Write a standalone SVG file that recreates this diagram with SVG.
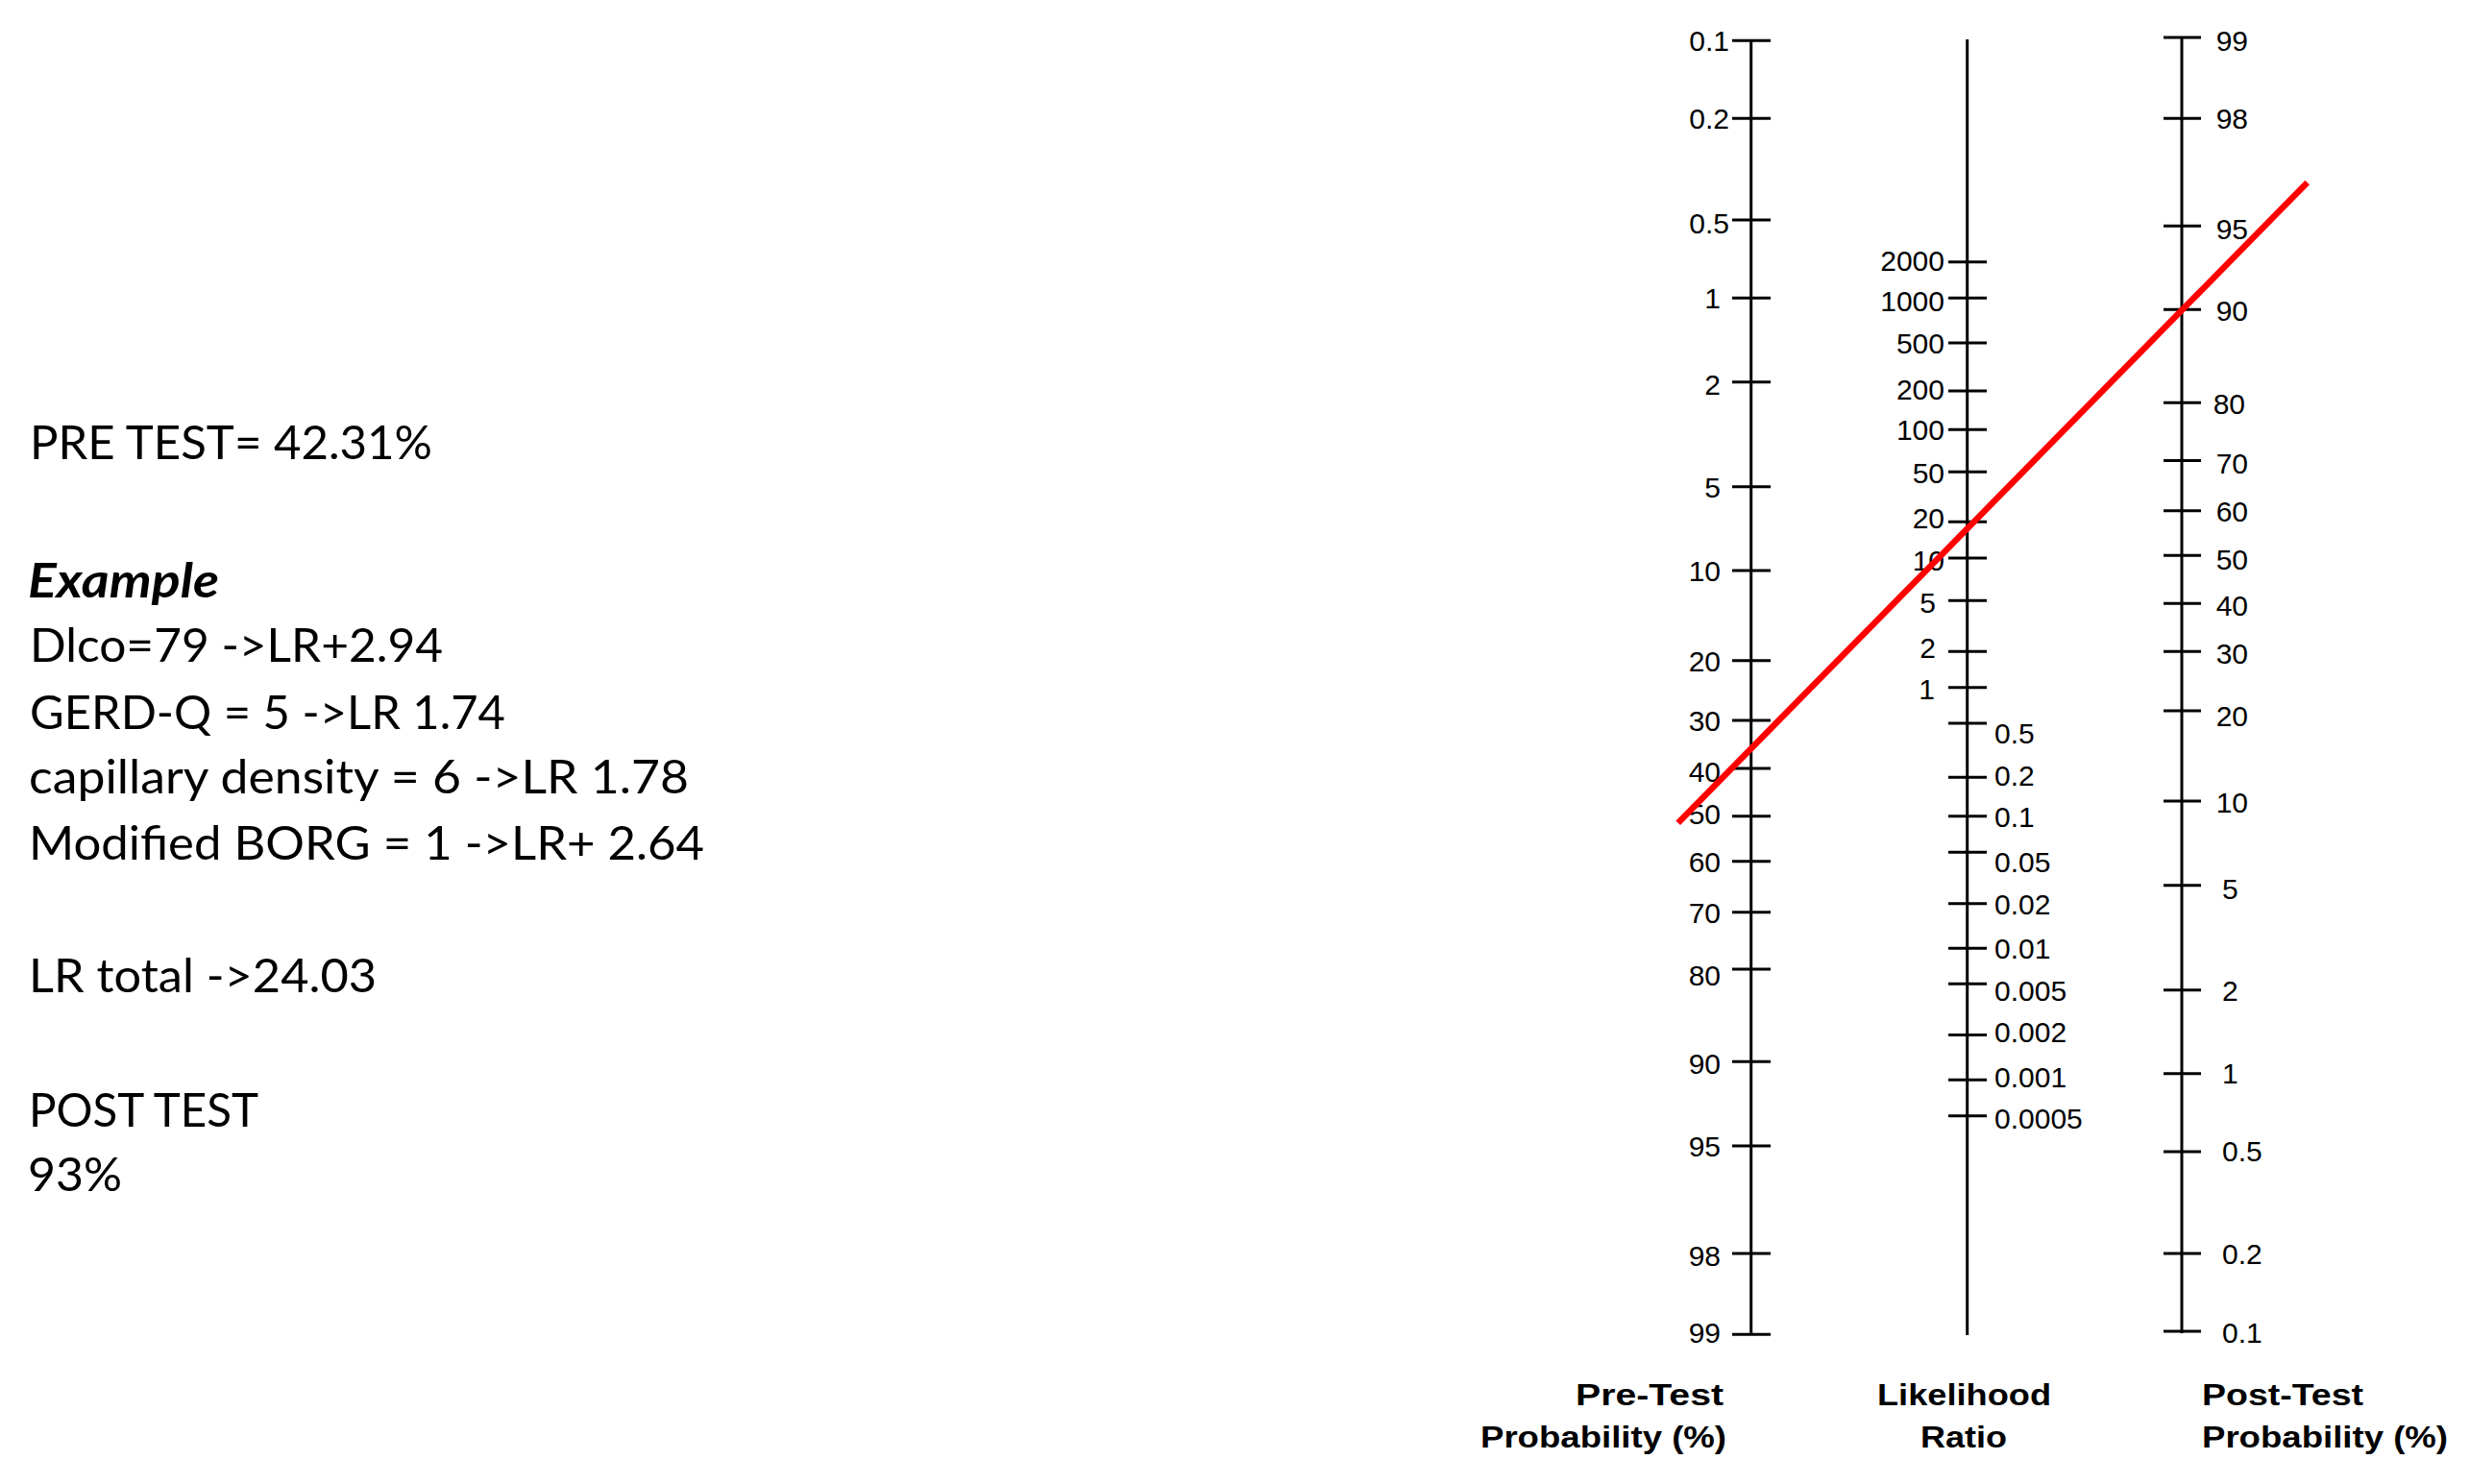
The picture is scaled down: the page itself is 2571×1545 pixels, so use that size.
<svg xmlns="http://www.w3.org/2000/svg" width="2571" height="1545" viewBox="0 0 2571 1545">
<style>
  .axis { stroke: #000; stroke-width: 3; fill: none; }
  .lbl { font-family: "Liberation Sans", Arial, sans-serif; font-size: 30px; fill: #000; }
  .end { text-anchor: end; }
  .ttl { font-family: "Liberation Sans", Arial, sans-serif; font-size: 32px; font-weight: bold; fill: #000; }
  .note { font-family: Lato, "Open Sans", sans-serif; font-size: 49px; fill: #000; }
  .ex { font-weight: bold; font-style: italic; }
  .red { stroke: #ff0000; stroke-width: 6.5; fill: none; }
</style>
<rect x="0" y="0" width="2571" height="1545" fill="#fff"/>

<g id="notes">
  <text class="note" x="31" y="478" textLength="419" lengthAdjust="spacingAndGlyphs">PRE TEST= 42.31%</text>
  <text class="note ex" x="29" y="621.5" textLength="199" lengthAdjust="spacingAndGlyphs">Example</text>
  <text class="note" x="31" y="688.5" textLength="430" lengthAdjust="spacingAndGlyphs">Dlco=79 -&gt;LR+2.94</text>
  <text class="note" x="31" y="758.5" textLength="495" lengthAdjust="spacingAndGlyphs">GERD-Q = 5 -&gt;LR 1.74</text>
  <text class="note" x="30" y="826" textLength="687" lengthAdjust="spacingAndGlyphs">capillary density = 6 -&gt;LR 1.78</text>
  <text class="note" x="30" y="895" textLength="703" lengthAdjust="spacingAndGlyphs">Modified BORG = 1 -&gt;LR+ 2.64</text>
  <text class="note" x="30" y="1033" textLength="362" lengthAdjust="spacingAndGlyphs">LR total -&gt;24.03</text>
  <text class="note" x="30" y="1173" textLength="239" lengthAdjust="spacingAndGlyphs">POST TEST</text>
  <text class="note" x="29" y="1240" textLength="98" lengthAdjust="spacingAndGlyphs">93%</text>
</g>

<g id="pretest-axis">
  <line class="axis" x1="1822.7" y1="42" x2="1822.7" y2="1389.5"/>
  <path class="axis" d="M1803,42.3H1843M1803,123.3H1843M1803,229H1843M1803,310.3H1843M1803,397.7H1843M1803,506.7H1843M1803,594H1843M1803,687.7H1843M1803,750H1843M1803,800H1843M1803,849.7H1843M1803,896.7H1843M1803,949.7H1843M1803,1009H1843M1803,1105.3H1843M1803,1193H1843M1803,1305H1843M1803,1389.3H1843"/>
  <text class="lbl end" x="1800" y="53">0.1</text>
  <text class="lbl end" x="1800" y="134">0.2</text>
  <text class="lbl end" x="1800" y="242.5">0.5</text>
  <text class="lbl end" x="1791" y="321">1</text>
  <text class="lbl end" x="1791" y="411">2</text>
  <text class="lbl end" x="1791" y="517.5">5</text>
  <text class="lbl end" x="1791" y="605">10</text>
  <text class="lbl end" x="1791" y="699">20</text>
  <text class="lbl end" x="1791" y="761">30</text>
  <text class="lbl end" x="1791" y="814">40</text>
  <text class="lbl end" x="1791" y="858">50</text>
  <text class="lbl end" x="1791" y="907.5">60</text>
  <text class="lbl end" x="1791" y="961">70</text>
  <text class="lbl end" x="1791" y="1026">80</text>
  <text class="lbl end" x="1791" y="1117.5">90</text>
  <text class="lbl end" x="1791" y="1204">95</text>
  <text class="lbl end" x="1791" y="1318">98</text>
  <text class="lbl end" x="1791" y="1397.5">99</text>
</g>

<g id="lr-axis">
  <line class="axis" x1="2047.7" y1="41" x2="2047.7" y2="1390"/>
  <path class="axis" d="M2028,272.7H2068M2028,310.3H2068M2028,357H2068M2028,407H2068M2028,447.3H2068M2028,491.2H2068M2028,543.3H2068M2028,581H2068M2028,625.3H2068M2028,678.3H2068M2028,715.7H2068M2028,753H2068M2028,809.3H2068M2028,849.8H2068M2028,887.3H2068M2028,940.7H2068M2028,987.3H2068M2028,1024.2H2068M2028,1077.5H2068M2028,1124.2H2068M2028,1161.7H2068"/>
  <text class="lbl end" x="2024" y="281.5">2000</text>
  <text class="lbl end" x="2024" y="324">1000</text>
  <text class="lbl end" x="2024" y="367.5">500</text>
  <text class="lbl end" x="2024" y="416">200</text>
  <text class="lbl end" x="2024" y="458">100</text>
  <text class="lbl end" x="2024" y="502.5">50</text>
  <text class="lbl end" x="2024" y="550">20</text>
  <text class="lbl end" x="2024" y="594">10</text>
  <text class="lbl end" x="2015" y="638">5</text>
  <text class="lbl end" x="2015" y="684.5">2</text>
  <text class="lbl end" x="2014" y="728">1</text>
  <text class="lbl" x="2076" y="774">0.5</text>
  <text class="lbl" x="2076" y="818">0.2</text>
  <text class="lbl" x="2076" y="861">0.1</text>
  <text class="lbl" x="2076" y="907.5">0.05</text>
  <text class="lbl" x="2076" y="952">0.02</text>
  <text class="lbl" x="2076" y="998">0.01</text>
  <text class="lbl" x="2076" y="1042">0.005</text>
  <text class="lbl" x="2076" y="1085">0.002</text>
  <text class="lbl" x="2076" y="1132">0.001</text>
  <text class="lbl" x="2076" y="1175">0.0005</text>
</g>

<g id="posttest-axis">
  <line class="axis" x1="2271" y1="39" x2="2271" y2="1388"/>
  <path class="axis" d="M2252,39H2291M2252,123.3H2291M2252,235.3H2291M2252,322.3H2291M2252,419.3H2291M2252,479.5H2291M2252,531.7H2291M2252,578.3H2291M2252,628.3H2291M2252,678.3H2291M2252,740H2291M2252,834H2291M2252,921.7H2291M2252,1030.7H2291M2252,1117.7H2291M2252,1199H2291M2252,1305H2291M2252,1386H2291"/>
  <text class="lbl end" x="2340" y="53">99</text>
  <text class="lbl end" x="2340" y="134">98</text>
  <text class="lbl end" x="2340" y="249">95</text>
  <text class="lbl end" x="2340" y="334">90</text>
  <text class="lbl end" x="2337" y="431">80</text>
  <text class="lbl end" x="2340" y="492.5">70</text>
  <text class="lbl end" x="2340" y="543">60</text>
  <text class="lbl end" x="2340" y="592.5">50</text>
  <text class="lbl end" x="2340" y="641">40</text>
  <text class="lbl end" x="2340" y="691">30</text>
  <text class="lbl end" x="2340" y="756">20</text>
  <text class="lbl end" x="2340" y="846">10</text>
  <text class="lbl" x="2313" y="936">5</text>
  <text class="lbl" x="2313" y="1041.5">2</text>
  <text class="lbl" x="2313" y="1128">1</text>
  <text class="lbl" x="2313" y="1209">0.5</text>
  <text class="lbl" x="2313" y="1316">0.2</text>
  <text class="lbl" x="2313" y="1397.5">0.1</text>
</g>

<g id="titles">
  <text class="ttl" x="1640" y="1463" textLength="154" lengthAdjust="spacingAndGlyphs">Pre-Test</text>
  <text class="ttl" x="1541" y="1507" textLength="256" lengthAdjust="spacingAndGlyphs">Probability (%)</text>
  <text class="ttl" x="1954" y="1463" textLength="181" lengthAdjust="spacingAndGlyphs">Likelihood</text>
  <text class="ttl" x="1999" y="1507" textLength="90" lengthAdjust="spacingAndGlyphs">Ratio</text>
  <text class="ttl" x="2292" y="1463" textLength="168" lengthAdjust="spacingAndGlyphs">Post-Test</text>
  <text class="ttl" x="2292" y="1507" textLength="256" lengthAdjust="spacingAndGlyphs">Probability (%)</text>
</g>

<g id="connectors">
  <line class="red" x1="1746.7" y1="856.7" x2="2401.7" y2="190"/>
</g>
</svg>
